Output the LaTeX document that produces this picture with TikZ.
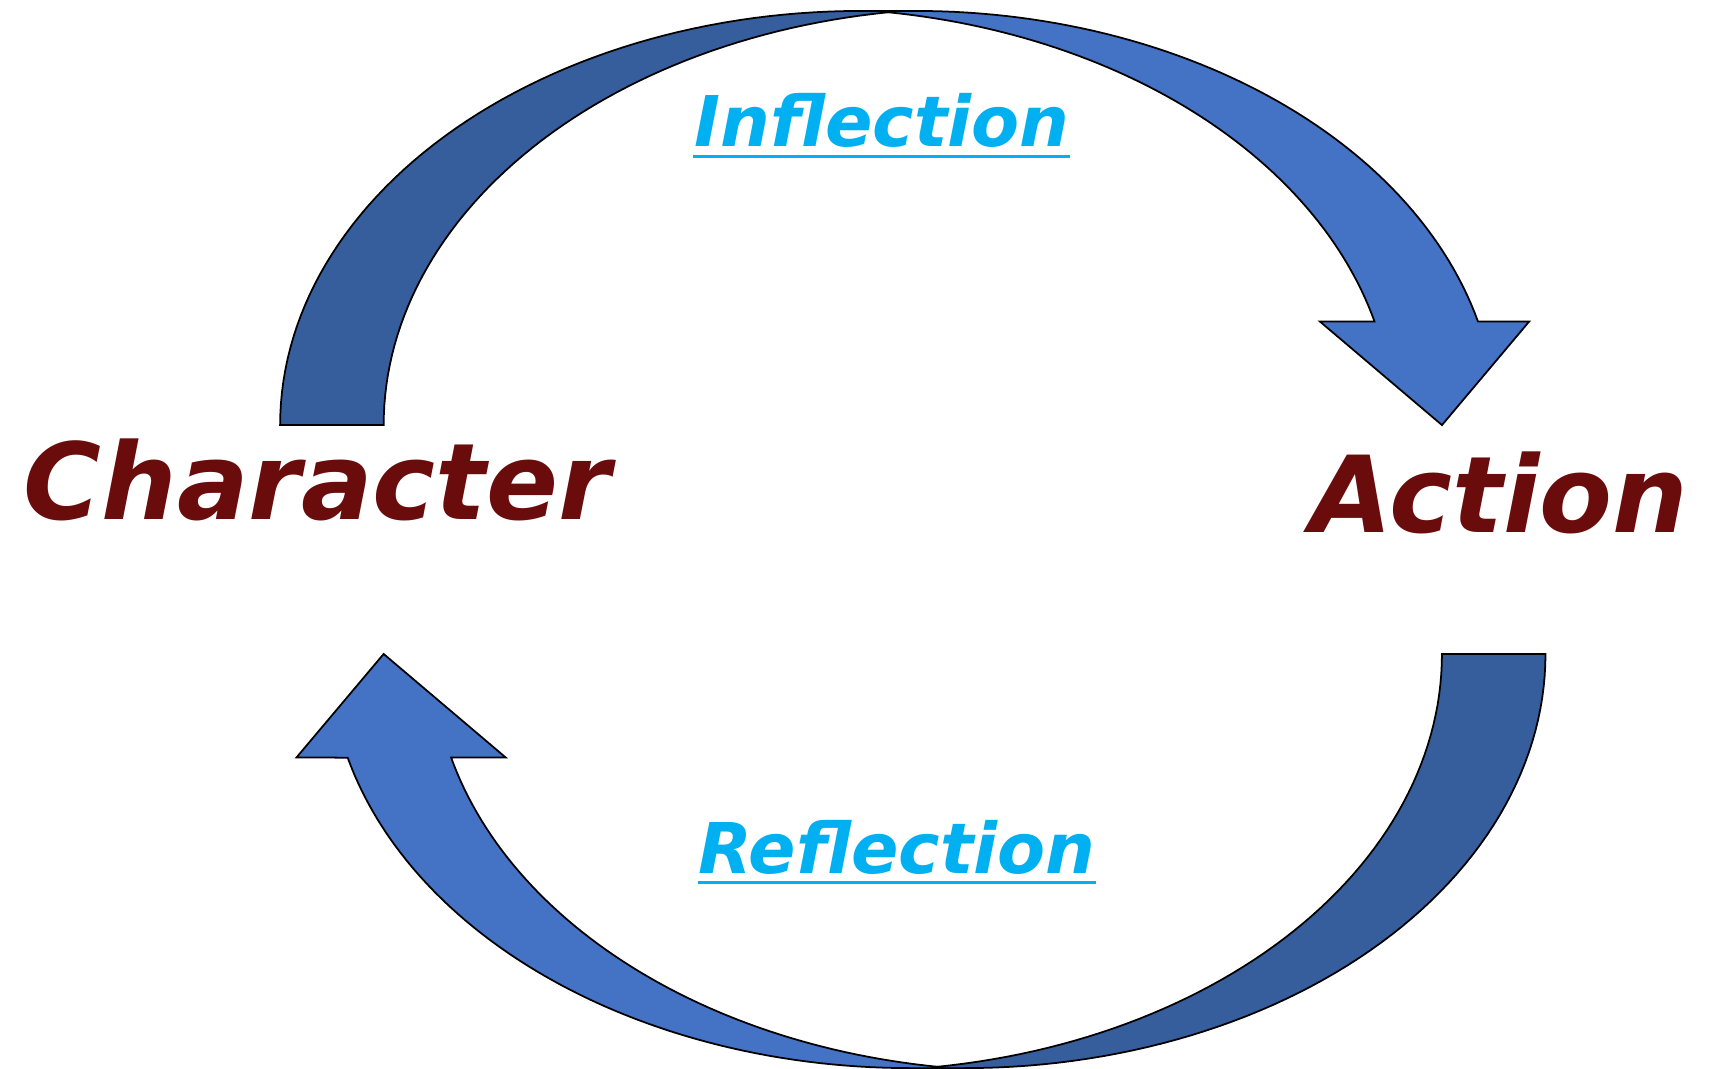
\documentclass[tikz,border=0pt]{standalone}
\usepackage{fontspec}
\newfontfamily\lblfont{DejaVu Sans}
\usetikzlibrary{calc}
\definecolor{arrowdark}{RGB}{54,93,156}
\definecolor{arrowlight}{RGB}{68,114,196}
\definecolor{textred}{RGB}{106,12,12}
\definecolor{textcyan}{RGB}{0,176,240}
\newcommand{\myarrowshape}{%
  % back (dark) part of the ribbon
  \filldraw[ribbondark]
    plot[domain=180:270, samples=60] ({790+533*cos(\x)},{390+380*sin(\x)})
    -- (815,10)
    -- plot[domain=262:180, samples=60] ({890+538*cos(\x)},{390+382.5*sin(\x)})
    -- cycle;
  % front (light) part with the head
  \filldraw[ribbonlight]
    (815,10) -- (840,10)
    -- plot[domain=270:345.5, samples=60] ({840+533*cos(\x)},{390+380*sin(\x)})
    -- (1403,295) -- (1323,390) -- (1211,295)
    -- plot[domain=345.62:278, samples=60] ({740+538*cos(\x)},{390+382.5*sin(\x)})
    -- cycle;
}
\begin{document}
\begin{tikzpicture}[x=0.0109cm, y=-0.0109cm,
  ribbondark/.style={fill=arrowdark, draw=black, line width=0.5pt, line join=miter},
  ribbonlight/.style={fill=arrowlight, draw=black, line width=0.5pt, line join=miter},
  bigword/.style={inner sep=0pt, anchor=base, text=textred,
    font=\lblfont\bfseries\itshape\fontsize{30.2pt}{36pt}\selectfont},
  smallword/.style={inner sep=0pt, anchor=base, text=textcyan,
    font=\lblfont\bfseries\itshape\fontsize{19.9pt}{24pt}\selectfont},
  uline/.style={draw=textcyan, line width=0.95pt}]
\useasboundingbox (0,0) rectangle (1568,980);
\fill[white] (0,0) rectangle (1568,980);
% Inflection arrow (top)
\myarrowshape
% Reflection arrow (bottom), same shape turned half a turn
\begin{scope}[rotate around={180:(837.5,495)}]
\myarrowshape
\end{scope}
% labels
\node[bigword] (character) at (291,477) {Character};
\node[bigword] (action) at (1375.5,489) {Action};
\node[smallword] (inf) at (809,134.6) {Inflection};
\node[smallword] (ref) at (823,801) {Reflection};
\draw[uline] ($(inf.base west)+(0,8.7)$) -- ($(inf.base east)+(0,8.7)$);
\draw[uline] ($(ref.base west)+(0,8.7)$) -- ($(ref.base east)+(0,8.7)$);
\end{tikzpicture}
\end{document}
